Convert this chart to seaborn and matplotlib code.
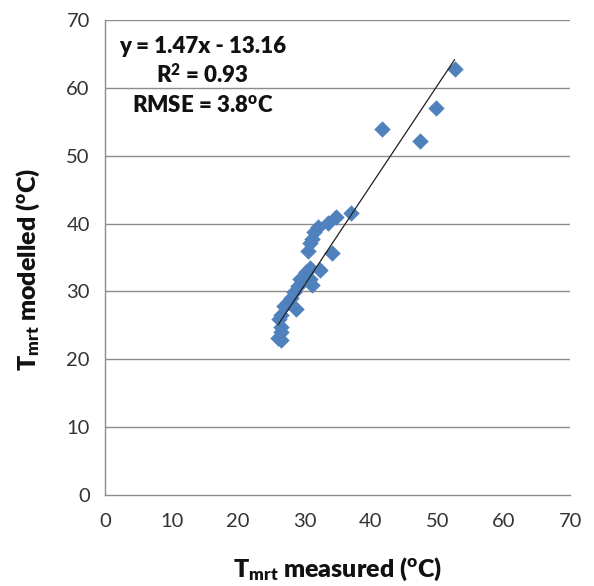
import matplotlib
matplotlib.use("Agg")
import matplotlib.pyplot as plt
import seaborn as sns
import numpy as np
import pandas as pd

# Data
measured = [52.6, 49.8, 47.4, 41.6, 37.0, 34.8, 33.5, 32.1, 31.4, 31.2, 30.9,
            30.6, 34.2, 30.9, 32.4, 30.2, 30.9, 31.2, 29.4, 29.0, 28.4, 27.9,
            27.5, 28.7, 26.9, 26.4, 26.1, 26.4, 26.4, 26.0, 26.4]
modelled = [62.8, 57.0, 52.1, 54.0, 41.6, 41.0, 40.1, 39.5, 38.8, 37.7, 37.2,
            35.9, 35.6, 33.5, 33.2, 32.8, 31.8, 30.9, 31.8, 30.8, 29.9, 29.1,
            28.4, 27.4, 27.8, 26.6, 25.9, 24.7, 24.0, 23.2, 22.8]
slope, intercept = 1.47, -13.16
x_ticks = [0, 10, 20, 30, 40, 50, 60, 70]
y_ticks = [0, 10, 20, 30, 40, 50, 60, 70]

df = pd.DataFrame({"measured": measured, "modelled": modelled})

sns.set_style("white")
plt.rcParams["font.family"] = ["Lato", "DejaVu Sans"]
plt.rcParams["mathtext.fontset"] = "custom"
plt.rcParams["mathtext.rm"] = "Lato"
plt.rcParams["mathtext.bf"] = "Lato:heavy"
plt.rcParams["mathtext.it"] = "Lato:italic"

fig = plt.figure(figsize=(5.94, 5.86), dpi=100)
ax = fig.add_axes([0.177, 0.155, 0.783, 0.811])

grid_c = "#8c8c8c"
for yv in y_ticks[1:]:
    ax.axhline(yv, color=grid_c, lw=1.0, zorder=0)

sns.scatterplot(data=df, x="measured", y="modelled", marker="D", s=70,
                color="#4F81BD", edgecolor="#4F81BD", linewidth=0, ax=ax, zorder=3)

xl = np.array([min(measured), max(measured)])
sns.lineplot(x=xl, y=slope * xl + intercept, color="#202020", lw=0.9, ax=ax, zorder=4)

ax.set_xlim(0, 70)
ax.set_ylim(0, 70)
ax.set_xticks(x_ticks)
ax.set_yticks(y_ticks)
ax.tick_params(axis="both", direction="out", length=7, width=1.0, color=grid_c,
               labelsize=14.5, labelcolor="#333333", pad=4)
ax.tick_params(axis="x", pad=6)
for s in ["top", "right"]:
    ax.spines[s].set_visible(False)
for s in ["left", "bottom"]:
    ax.spines[s].set_color(grid_c)
    ax.spines[s].set_linewidth(1.0)

ax.set_xlabel(r"$\mathbf{T_{mrt}}$ measured ($^{\mathbf{o}}$C)", fontsize=18,
              fontweight="heavy", color="#111111")
ax.set_ylabel(r"$\mathbf{T_{mrt}}$ modelled ($^{\mathbf{o}}$C)", fontsize=18,
              fontweight="heavy", color="#111111")
ax.xaxis.set_label_coords(0.5, -0.128)
ax.yaxis.set_label_coords(-0.135, 0.475)

kw = dict(transform=ax.transAxes, ha="center", va="center", fontsize=16,
          fontweight="heavy", color="#111111")
ax.text(0.21, 0.945, "y = 1.47x - 13.16", **kw)
ax.text(0.21, 0.884, r"R$^{\mathbf{2}}$ = 0.93", **kw)
ax.text(0.21, 0.819, r"RMSE = 3.8$^{\mathbf{o}}$C", **kw)

fig.savefig("out.png", dpi=100)
